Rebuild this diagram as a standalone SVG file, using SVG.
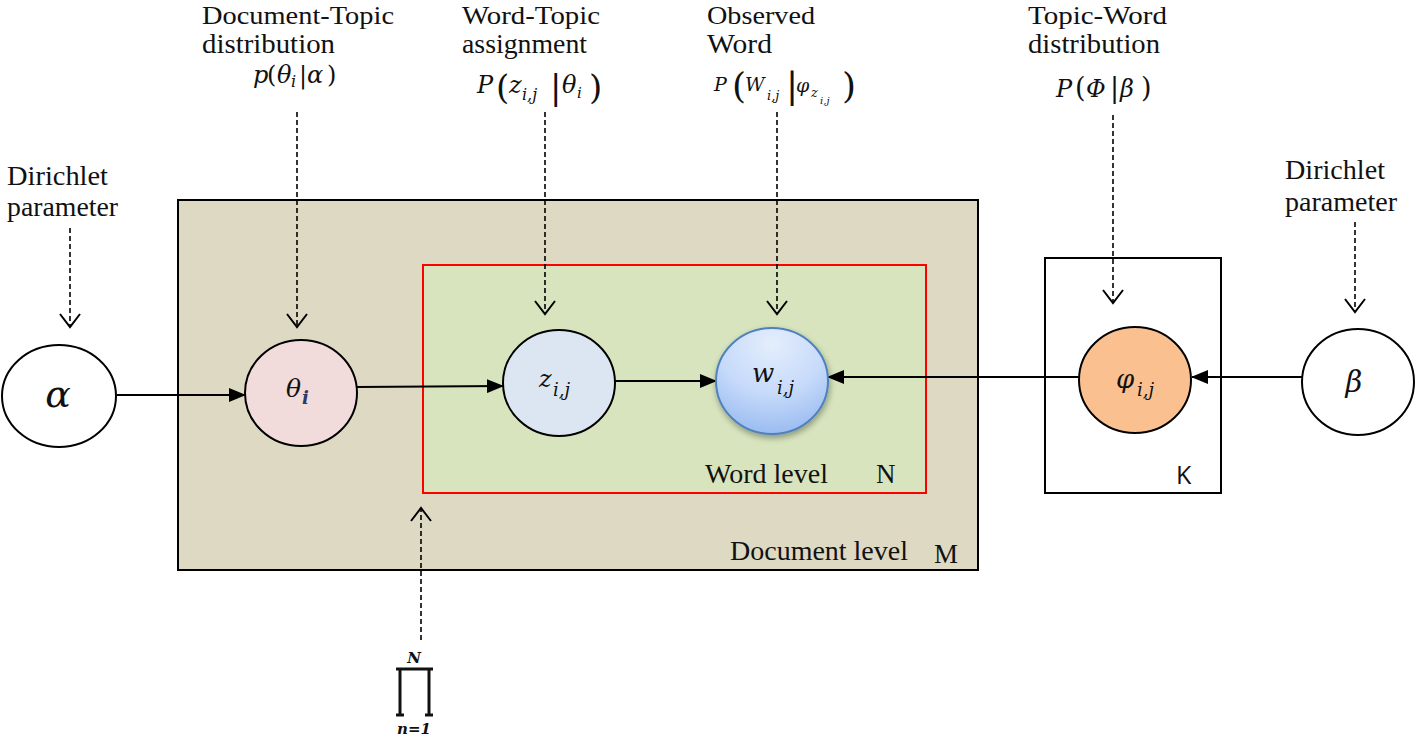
<svg xmlns="http://www.w3.org/2000/svg" width="1416" height="737" viewBox="0 0 1416 737">
<style>
.lbl{font-family:"Liberation Serif","Times New Roman",serif;font-size:27px;fill:#111}
.t1{font-size:26px}
.m{font-family:"DejaVu Serif","Liberation Serif",serif;font-style:italic;fill:#111}
.up{font-style:normal}
.solid{stroke:#000;stroke-width:2;fill:none;marker-end:url(#fa)}
.dash{stroke:#000;stroke-width:1.6;stroke-dasharray:5 3;fill:none;marker-end:url(#oa)}
.node{stroke:#000;stroke-width:2}
</style>
<defs>
<marker id="fa" markerUnits="userSpaceOnUse" markerWidth="18" markerHeight="14" refX="16" refY="7" orient="auto">
<path d="M0,0 L17,7 L0,14 Z" fill="#000"/>
</marker>
<marker id="oa" markerUnits="userSpaceOnUse" markerWidth="24" markerHeight="28" refX="14" refY="12" orient="auto">
<path d="M1,2 L14,12 L1,22" fill="none" stroke="#000" stroke-width="2"/>
</marker>
<radialGradient id="wg" cx="0.5" cy="0.15" r="0.95">
<stop offset="0" stop-color="#e4eefc"/>
<stop offset="0.5" stop-color="#c6dafa"/>
<stop offset="1" stop-color="#8fb4ee"/>
</radialGradient>
<filter id="sh" x="-20%" y="-20%" width="150%" height="150%">
<feGaussianBlur in="SourceAlpha" stdDeviation="3"/>
<feOffset dx="1" dy="3"/>
<feComponentTransfer><feFuncA type="linear" slope="0.35"/></feComponentTransfer>
<feMerge><feMergeNode/><feMergeNode in="SourceGraphic"/></feMerge>
</filter>
</defs>

<g id="plate-document">
<rect x="178" y="200" width="800" height="370" fill="#DDD9C3" stroke="#000" stroke-width="2"/>
<text class="lbl" x="730" y="560" textLength="178" lengthAdjust="spacingAndGlyphs">Document level</text>
<text class="lbl" x="934" y="563" font-size="31">M</text>
</g>
<g id="plate-word">
<rect x="423" y="265" width="503" height="228" fill="#D7E4BD" stroke="#FF0000" stroke-width="2"/>
<text class="lbl" x="705" y="483" textLength="123" lengthAdjust="spacingAndGlyphs">Word level</text>
<text class="lbl" x="876" y="483">N</text>
</g>
<g id="plate-topic">
<rect x="1045" y="258" width="176" height="235" fill="#fff" stroke="#000" stroke-width="2"/>
<text x="1176" y="484" font-family="'Open Sans','Liberation Sans',sans-serif" font-size="25" fill="#111">K</text>
</g>

<g id="label-dirichlet-left">
<text class="lbl" x="7" y="185" textLength="101" lengthAdjust="spacingAndGlyphs">Dirichlet</text>
<text class="lbl" x="7" y="216" textLength="111" lengthAdjust="spacingAndGlyphs">parameter</text>
</g>
<g id="label-dirichlet-right">
<text class="lbl" x="1285" y="179" textLength="100" lengthAdjust="spacingAndGlyphs">Dirichlet</text>
<text class="lbl" x="1285" y="211" textLength="112" lengthAdjust="spacingAndGlyphs">parameter</text>
</g>
<g id="label-doc-topic">
<text class="lbl t1" x="202" y="24" textLength="192" lengthAdjust="spacingAndGlyphs">Document-Topic</text>
<text class="lbl" x="202" y="53" textLength="133" lengthAdjust="spacingAndGlyphs">distribution</text>
<text class="m" font-size="24" y="83"><tspan x="253">p</tspan><tspan class="up" x="267">(</tspan><tspan x="277">θ</tspan><tspan x="291" y="87" font-size="16">i</tspan><tspan class="up" x="299" y="83">|</tspan><tspan x="307">α</tspan><tspan class="up" x="327">)</tspan></text>
</g>
<g id="label-word-topic">
<text class="lbl t1" x="462" y="24" textLength="138" lengthAdjust="spacingAndGlyphs">Word-Topic</text>
<text class="lbl" x="462" y="53" textLength="125" lengthAdjust="spacingAndGlyphs">assignment</text>
<text class="m" font-size="24" y="93"><tspan x="477">P</tspan><tspan class="up" x="496" y="99" font-size="34">(</tspan><tspan x="509" y="93">z</tspan><tspan x="522" y="100" font-size="16">i,j</tspan><tspan class="up" x="550" y="99" font-size="34">|</tspan><tspan x="562" y="93">θ</tspan><tspan x="577" y="98" font-size="15">i</tspan><tspan class="up" x="589" y="99" font-size="34">)</tspan></text>
</g>
<g id="label-observed-word">
<text class="lbl t1" x="707" y="24" textLength="108" lengthAdjust="spacingAndGlyphs">Observed</text>
<text class="lbl" x="707" y="53" textLength="65" lengthAdjust="spacingAndGlyphs">Word</text>
<text class="m" font-size="19" y="91"><tspan x="714">P</tspan><tspan class="up" x="732" y="98" font-size="36">(</tspan><tspan x="745" y="91">W</tspan><tspan x="767" y="100" font-size="13">i,j</tspan><tspan class="up" x="786" y="98" font-size="36">|</tspan><tspan x="796" y="92">φ</tspan><tspan x="811" y="97" font-size="13">z</tspan><tspan x="820" y="104" font-size="10">i,j</tspan><tspan class="up" x="842" y="98" font-size="36">)</tspan></text>
</g>
<g id="label-topic-word">
<text class="lbl t1" x="1028" y="24" textLength="139" lengthAdjust="spacingAndGlyphs">Topic-Word</text>
<text class="lbl" x="1028" y="53" textLength="132" lengthAdjust="spacingAndGlyphs">distribution</text>
<text class="m" font-size="24" y="97"><tspan x="1056">P</tspan><tspan class="up" x="1075" font-size="27">(</tspan><tspan x="1086">Φ</tspan><tspan class="up" x="1110" font-size="27">|</tspan><tspan x="1120">β</tspan><tspan class="up" x="1141" font-size="27">)</tspan></text>
</g>
<g id="label-product">
<text class="m" x="414" y="663" font-size="15" font-weight="bold" text-anchor="middle">N</text>
<path d="M396,669 H433 M400,669 V715 M429,669 V715 M396,715 H404 M425,715 H433" stroke="#111" stroke-width="3" fill="none"/>
<text class="m" x="414" y="734" font-size="15" font-weight="bold" text-anchor="middle">n=1</text>
</g>

<g id="connectors">
<path class="solid" d="M117,395 H245"/>
<path class="solid" d="M357,387 L503,386"/>
<path class="solid" d="M615,381 H716"/>
<path class="solid" d="M1079,377 H828"/>
<path class="solid" d="M1302,377 H1192"/>
<path class="dash" d="M70,228 V327"/>
<path class="dash" d="M297,112 V327"/>
<path class="dash" d="M545,112 V314"/>
<path class="dash" d="M777,112 V314"/>
<path class="dash" d="M1113,115 V303"/>
<path class="dash" d="M1355,222 V312"/>
<path class="dash" d="M421,640 V508"/>
</g>

<g id="node-alpha">
<ellipse class="node" cx="59" cy="396" rx="57" ry="51" fill="#fff"/>
<text class="m" x="58" y="407" font-size="38" text-anchor="middle">α</text>
</g>
<g id="node-theta">
<ellipse class="node" cx="301" cy="393" rx="56" ry="53" fill="#F2DCDB"/>
<text class="m" font-size="25" y="397"><tspan x="286">θ</tspan><tspan x="302" y="404" font-size="18" font-weight="bold" fill="#2b3a66">i</tspan></text>
</g>
<g id="node-z">
<ellipse class="node" cx="559" cy="383" rx="56" ry="53" fill="#DCE6F2"/>
<text class="m" font-size="24" y="387"><tspan x="539">z</tspan><tspan x="553" y="396" font-size="18">i,j</tspan></text>
</g>
<g id="node-w">
<ellipse cx="772" cy="381" rx="56" ry="53" fill="url(#wg)" stroke="#4F81BD" stroke-width="2" filter="url(#sh)"/>
<text class="m" font-size="26" y="382"><tspan x="752">w</tspan><tspan x="777" y="394" font-size="18">i,j</tspan></text>
</g>
<g id="node-phi">
<ellipse class="node" cx="1135" cy="380" rx="56" ry="53" fill="#FAC090"/>
<text class="m" font-size="26" y="388"><tspan x="1116">φ</tspan><tspan x="1137" y="396" font-size="18">i,j</tspan></text>
</g>
<g id="node-beta">
<ellipse class="node" cx="1358" cy="382" rx="56" ry="53" fill="#fff"/>
<text class="m" x="1354" y="392" font-size="29" text-anchor="middle">β</text>
</g>
</svg>
